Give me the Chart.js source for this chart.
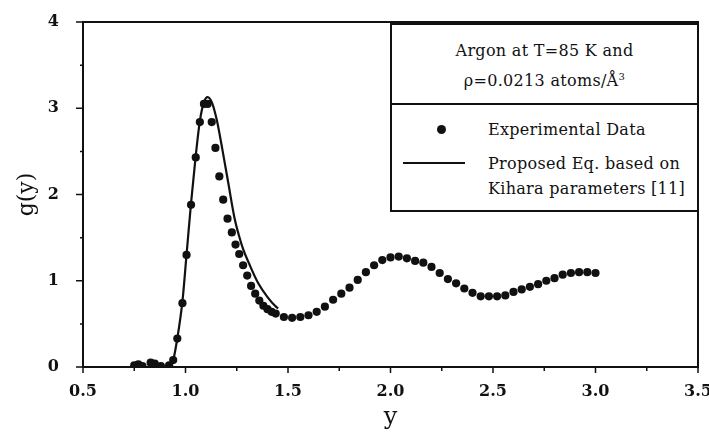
<!DOCTYPE html>
<html>
<head>
<meta charset="utf-8">
<script src="https://cdn.jsdelivr.net/npm/chart.js@4/dist/chart.umd.min.js"></script>
<style>
  html, body { margin: 0; padding: 0; background: #fff; }
  #wrap { position: relative; width: 709px; height: 440px; }
  #box {
    position: absolute; left: 390px; top: 23px; width: 305px; height: 185px;
    border: 2px solid #111; background: #fff;
    font-family: "DejaVu Serif", serif; font-size: 16px; color: #111; letter-spacing: 0.3px;
  }
  #box .head { height: 80px; border-bottom: 2px solid #111; text-align: center; line-height: 26px; padding-top: 13px; box-sizing: border-box; }
  #box .row { position: absolute; left: 96px; line-height: 25px; white-space: nowrap; }
  #box .dot { position: absolute; left: 45px; top: 100px; width: 9px; height: 9px; border-radius: 50%; background: #111; }
  #box .ln { position: absolute; left: 11px; top: 137px; width: 62px; height: 2px; background: #111; }
</style>
</head>
<body>
<div id="wrap">
  <canvas id="rdf" width="709" height="440"></canvas>
  <div id="box">
    <div class="head">Argon at T=85 K and<br>ρ=0.0213 atoms/Å<sup style="font-size:10px">3</sup></div>
    <div class="dot"></div>
    <div class="row" style="top:92px">Experimental Data</div>
    <div class="ln"></div>
    <div class="row" style="top:126px">Proposed Eq. based on<br>Kihara parameters [11]</div>
  </div>
</div>
<script>
// experimental g(y) for liquid argon
const expY = [0.75, 0.77, 0.79, 0.83, 0.85, 0.88, 0.92, 0.94, 0.96, 0.985, 1.005, 1.027, 1.05, 1.07, 1.09, 1.108,
  1.128, 1.146, 1.165, 1.184, 1.205, 1.226, 1.244, 1.262, 1.281, 1.301, 1.32, 1.34, 1.36, 1.38, 1.40, 1.42,
  1.44, 1.48, 1.52, 1.56, 1.60, 1.64, 1.68, 1.72, 1.76, 1.80, 1.84, 1.88, 1.92, 1.96, 2.00, 2.04, 2.08, 2.12,
  2.16, 2.20, 2.24, 2.28, 2.32, 2.36, 2.40, 2.44, 2.48, 2.52, 2.56, 2.60, 2.64, 2.68, 2.72, 2.76, 2.80, 2.84,
  2.88, 2.92, 2.96, 3.00];
const expG = [0.02, 0.03, 0.01, 0.05, 0.04, 0.01, 0.02, 0.08, 0.33, 0.74, 1.30, 1.88, 2.43, 2.84, 3.05, 3.05,
  2.84, 2.54, 2.21, 1.94, 1.72, 1.56, 1.42, 1.31, 1.18, 1.06, 0.94, 0.85, 0.77, 0.71, 0.67, 0.64,
  0.62, 0.58, 0.57, 0.58, 0.60, 0.64, 0.70, 0.78, 0.85, 0.92, 1.01, 1.10, 1.18, 1.24, 1.27, 1.28, 1.26, 1.23,
  1.21, 1.16, 1.09, 1.02, 0.97, 0.91, 0.86, 0.82, 0.82, 0.82, 0.83, 0.87, 0.90, 0.93, 0.96, 1.00, 1.03, 1.07,
  1.09, 1.10, 1.10, 1.09];

// proposed equation (Kihara parameters)
const eqY = [0.5, 0.90, 0.925, 0.94, 0.96, 0.985, 1.005, 1.027, 1.05, 1.07, 1.09, 1.108, 1.13, 1.153, 1.18,
  1.209, 1.238, 1.26, 1.282, 1.31, 1.355, 1.40, 1.441, 1.452];
const eqG = [0, 0, 0.02, 0.08, 0.33, 0.76, 1.30, 1.90, 2.45, 2.85, 3.07, 3.13, 3.06, 2.86, 2.52,
  2.13, 1.74, 1.53, 1.36, 1.20, 0.97, 0.81, 0.70, 0.68];

const xMajor = [0.5, 1.0, 1.5, 2.0, 2.5, 3.0, 3.5];
const yMajor = [0, 1, 2, 3, 4];

const ink = '#111';
const serif = '"DejaVu Serif", serif';

// frame + outward ticks (major and minor)
const frameTicks = {
  id: 'frameTicks',
  afterDraw(chart) {
    const { ctx, chartArea: a, scales: { x, y } } = chart;
    ctx.save();
    ctx.strokeStyle = ink;
    ctx.lineWidth = 2;
    ctx.strokeRect(a.left, a.top, a.right - a.left, a.bottom - a.top);
    ctx.lineWidth = 1.5;
    ctx.beginPath();
    for (let v = 0.5; v <= 3.5001; v += 0.25) {
      const px = x.getPixelForValue(v);
      const major = Math.abs(v * 2 - Math.round(v * 2)) < 1e-6;
      ctx.moveTo(px, a.bottom);
      ctx.lineTo(px, a.bottom + (major ? 6 : 4));
    }
    for (let v = 0; v <= 4.0001; v += 0.5) {
      const py = y.getPixelForValue(v);
      const major = Math.abs(v - Math.round(v)) < 1e-6;
      ctx.moveTo(a.left, py);
      ctx.lineTo(a.left - (major ? 7 : 3), py);
    }
    ctx.stroke();
    ctx.restore();
  }
};

new Chart(document.getElementById('rdf'), {
  type: 'scatter',
  data: {
    datasets: [
      {
        label: 'Experimental Data',
        data: expY.map((v, i) => ({ x: v, y: expG[i] })),
        backgroundColor: ink,
        borderWidth: 0,
        pointRadius: 4.1,
        pointHoverRadius: 4.1,
        showLine: false,
        order: 1
      },
      {
        label: 'Proposed Eq. based on Kihara parameters [11]',
        data: eqY.map((v, i) => ({ x: v, y: eqG[i] })),
        borderColor: ink,
        borderWidth: 2.2,
        pointRadius: 0,
        showLine: true,
        cubicInterpolationMode: 'monotone',
        order: 0
      }
    ]
  },
  options: {
    responsive: false,
    animation: false,
    layout: { padding: { top: 22, right: 11, left: 0, bottom: 0 } },
    plugins: { legend: { display: false }, tooltip: { enabled: false } },
    scales: {
      x: {
        type: 'linear', min: 0.5, max: 3.5,
        afterBuildTicks: s => { s.ticks = xMajor.map(v => ({ value: v })); },
        afterFit: s => { s.height = 73; s.paddingLeft = 0; s.paddingRight = 0; },
        grid: { display: false },
        border: { display: false },
        ticks: {
          color: ink, padding: 7, maxRotation: 0,
          font: { family: serif, size: 16, weight: 'bold' },
          callback: v => v.toFixed(1)
        },
        title: { display: true, text: 'y', color: ink, font: { family: serif, size: 24 }, padding: { top: 0, bottom: 8 } }
      },
      y: {
        type: 'linear', min: 0, max: 4,
        afterBuildTicks: s => { s.ticks = yMajor.map(v => ({ value: v })); },
        afterFit: s => { s.width = 83; s.paddingTop = 0; s.paddingBottom = 0; },
        grid: { display: false },
        border: { display: false },
        ticks: {
          color: ink, padding: 16,
          font: { family: serif, size: 16, weight: 'bold' }
        },
        title: { display: true, text: 'g(y)', color: ink, font: { family: serif, size: 22 }, padding: { top: 14, bottom: 0 } }
      }
    }
  },
  plugins: [frameTicks]
});
</script>
</body>
</html>
